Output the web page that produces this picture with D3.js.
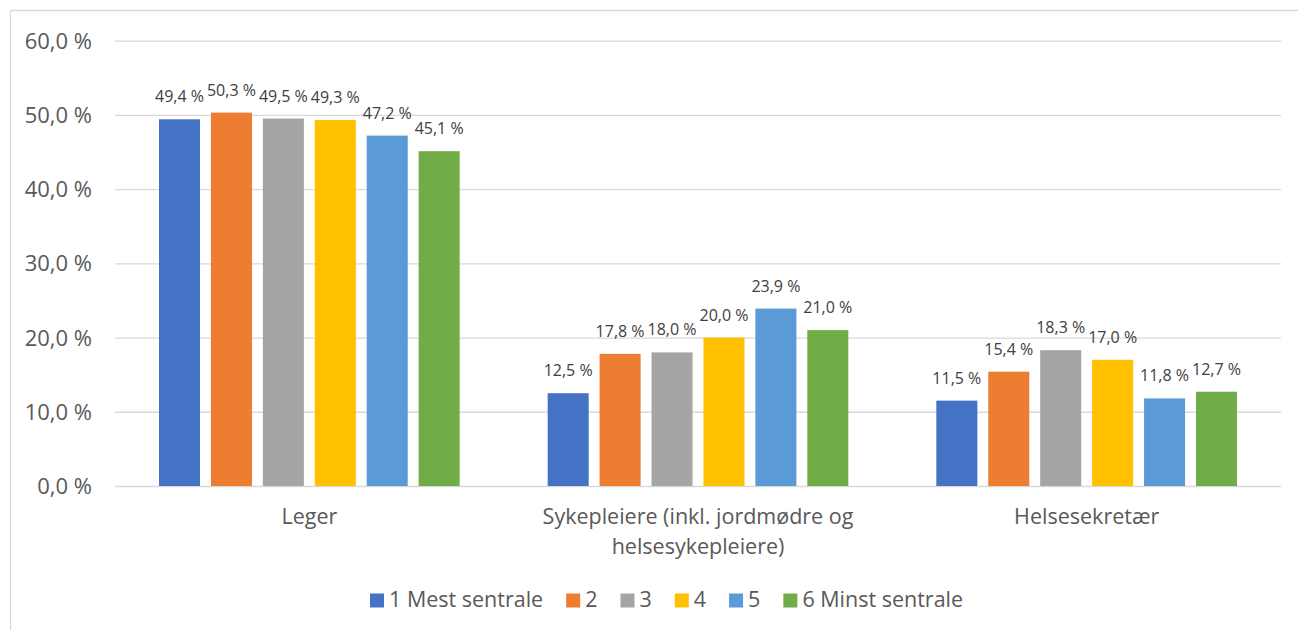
<!DOCTYPE html>
<html>
<head>
<meta charset="utf-8">
<script src="https://cdn.jsdelivr.net/npm/d3@7"></script>
<style>
  html, body { margin: 0; padding: 0; background: #fff; }
  svg { display: block; font-family: "Open Sans", sans-serif; }
</style>
</head>
<body>
<svg id="chart" width="1298" height="630"></svg>
<script>
// Share of staff by profession, grouped by centrality class
const categories = [["Leger"], ["Sykepleiere (inkl. jordmødre og", "helsesykepleiere)"], ["Helsesekretær"]];
const seriesNames = ["1 Mest sentrale", "2", "3", "4", "5", "6 Minst sentrale"];
const leger = [49.4, 50.3, 49.5, 49.3, 47.2, 45.1];
const sykepleiere = [12.5, 17.8, 18.0, 20.0, 23.9, 21.0];
const helsesekretaer = [11.5, 15.4, 18.3, 17.0, 11.8, 12.7];
const yTicks = [0, 10, 20, 30, 40, 50, 60];
const colors = ["#4472C4", "#ED7D31", "#A5A5A5", "#FFC000", "#5B9BD5", "#70AD47"];

const values = [leger, sykepleiere, helsesekretaer];
const fmt = v => d3.format(".1f")(v).replace(".", ",") + " %";

const svg = d3.select("#chart");
const plot = { left: 115, right: 1281, top: 40.6, bottom: 486 };

// chart frame
svg.append("path")
  .attr("d", "M10.5,640 V10.5 H1310")
  .attr("fill", "none").attr("stroke", "#D9D9D9").attr("stroke-width", 1.3);

const y = d3.scaleLinear().domain([0, 60]).range([plot.bottom, plot.top]);
const catIdx = categories.map((d, i) => i);
const x0 = d3.scaleBand().domain(catIdx).range([plot.left, plot.right]).padding(0);
const x1 = d3.scaleBand().domain(d3.range(seriesNames.length))
  .range([44, x0.bandwidth() - 44]).paddingInner(0.21).paddingOuter(0);

// gridlines and value axis
const yAxis = d3.axisLeft(y).tickValues(yTicks)
  .tickSize(-(plot.right - plot.left)).tickPadding(23)
  .tickFormat(v => d3.format(".1f")(v).replace(".", ",") + " %");
const gy = svg.append("g").attr("transform", `translate(${plot.left},0)`).call(yAxis);
gy.select(".domain").remove();
gy.selectAll(".tick line").attr("stroke", "#D9D9D9").attr("stroke-width", 1.3);
gy.selectAll(".tick text").attr("fill", "#595959").attr("font-size", 22)
  .attr("font-family", "Open Sans, sans-serif").attr("dy", "0.34em");

// bars
const groups = svg.append("g").selectAll("g").data(values).join("g")
  .attr("transform", (d, i) => `translate(${x0(i)},0)`);
groups.selectAll("rect").data(d => d).join("rect")
  .attr("x", (d, j) => x1(j))
  .attr("y", d => y(d))
  .attr("width", x1.bandwidth())
  .attr("height", d => plot.bottom - y(d))
  .attr("fill", (d, j) => colors[j]);

// value labels
groups.selectAll("text").data(d => d).join("text")
  .attr("x", (d, j) => x1(j) + x1.bandwidth() / 2)
  .attr("y", d => y(d) - 17)
  .attr("text-anchor", "middle")
  .attr("font-size", 16)
  .attr("fill", "#404040")
  .text(d => fmt(d));

// category labels
const catG = svg.append("g");
categories.forEach((lines, i) => {
  const t = catG.append("text")
    .attr("x", x0(i) + x0.bandwidth() / 2)
    .attr("y", 524)
    .attr("text-anchor", "middle")
    .attr("font-size", 21.5)
    .attr("fill", "#595959");
  lines.forEach((ln, k) => {
    t.append("tspan").attr("x", x0(i) + x0.bandwidth() / 2)
      .attr("dy", k === 0 ? 0 : 30).text(ln);
  });
});

// legend
const leg = svg.append("g").attr("transform", "translate(370,607)");
let cx = 0;
seriesNames.forEach((name, j) => {
  const item = leg.append("g").attr("transform", `translate(${cx},0)`);
  item.append("rect").attr("x", 0).attr("y", -13.5).attr("width", 14).attr("height", 14)
    .attr("fill", colors[j]);
  const t = item.append("text").attr("x", 19).attr("y", 0)
    .attr("font-size", 21.5).attr("fill", "#595959").text(name);
  cx += 19 + t.node().getComputedTextLength() + 23;
});
</script>
</body>
</html>
